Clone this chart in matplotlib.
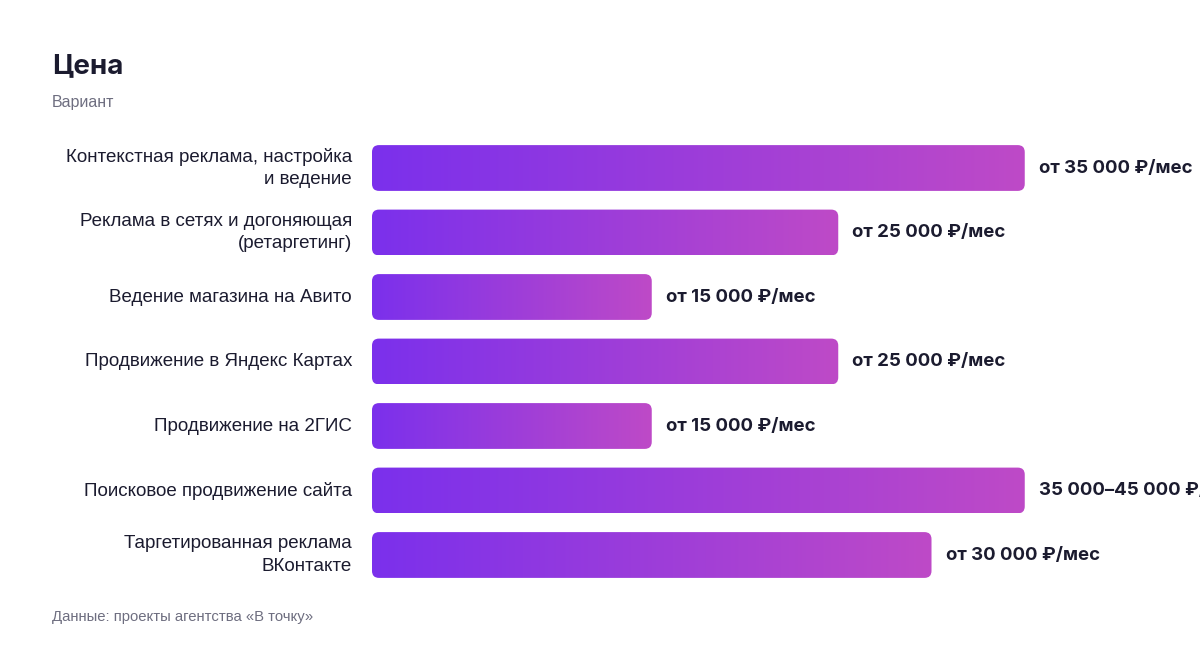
import matplotlib
matplotlib.use("Agg")
import matplotlib.pyplot as plt
import numpy as np
from matplotlib.colors import LinearSegmentedColormap
from matplotlib.patches import FancyBboxPatch

# ── Data ──────────────────────────────────────────────────────────────────────
categories = [
    "Контекстная реклама, настройка\nи ведение",
    "Реклама в сетях и догоняющая\n(ретаргетинг)",
    "Ведение магазина на Авито",
    "Продвижение в Яндекс Картах",
    "Продвижение на 2ГИС",
    "Поисковое продвижение сайта",
    "Таргетированная реклама\nВКонтакте",
]
prices = [35000, 25000, 15000, 25000, 15000, 35000, 30000]
price_labels = [
    "от 35 000 ₽/мес",
    "от 25 000 ₽/мес",
    "от 15 000 ₽/мес",
    "от 25 000 ₽/мес",
    "от 15 000 ₽/мес",
    "35 000–45 000 ₽/мес",
    "от 30 000 ₽/мес",
]

TITLE = "Цена"
SUBTITLE = "Вариант"
SOURCE = "Данные: проекты агентства «В точку»"

# ── Style ─────────────────────────────────────────────────────────────────────
TEXT_DARK = "#1b1b2f"
TEXT_GRAY = "#6e6e80"
GRAD = LinearSegmentedColormap.from_list("bar", ["#7B30EC", "#BE4AC7"])
BAR_H = 0.71
PX_PER_UNIT = 186.5 / 10000      # pixels per rouble
RADIUS_PX = 7

fig = plt.figure(figsize=(12, 6.48), dpi=100)
ax_left_px, ax_right_px = 372, 1200
ax_top_px, ax_bot_px = 135.75, 587.25
ax = fig.add_axes([ax_left_px / 1200, 1 - ax_bot_px / 648,
                   (ax_right_px - ax_left_px) / 1200, (ax_bot_px - ax_top_px) / 648])

xmax = (ax_right_px - ax_left_px) / PX_PER_UNIT
n = len(categories)
ax.set_xlim(0, xmax)
ax.set_ylim(n - 0.5, -0.5)
ax.axis("off")

# data units per pixel
x_per_px = xmax / (ax_right_px - ax_left_px)
y_per_px = n / (ax_bot_px - ax_top_px)
grad = np.linspace(0, 1, 256).reshape(1, -1)

for i, (v, lab) in enumerate(zip(prices, price_labels)):
    y0 = i - BAR_H / 2
    patch = FancyBboxPatch((0, y0), v, BAR_H,
                           boxstyle=f"round,pad=0,rounding_size={RADIUS_PX * x_per_px}",
                           mutation_aspect=y_per_px / x_per_px,
                           linewidth=0, facecolor="none")
    ax.add_patch(patch)
    im = ax.imshow(grad, cmap=GRAD, aspect="auto", interpolation="bicubic",
                   extent=[0, v, i + BAR_H / 2, y0], zorder=2)
    im.set_clip_path(patch)
    ax.text(v + 14 * x_per_px, i, lab, ha="left", va="center",
            fontsize=13.4, fontweight="bold", color=TEXT_DARK,
            family=["Inter", "DejaVu Sans"], clip_on=False)

for i, cat in enumerate(categories):
    ax.text(-20 * x_per_px, i, cat, ha="right", va="center", fontsize=13.5,
            color=TEXT_DARK, family=["Liberation Sans", "DejaVu Sans"],
            linespacing=1.45, clip_on=False)

fig.text(52 / 1200, 1 - 66 / 648, TITLE, ha="left", va="center",
         fontsize=20, fontweight="bold", color=TEXT_DARK, family=["Inter", "DejaVu Sans"])
fig.text(52 / 1200, 1 - 102 / 648, SUBTITLE, ha="left", va="center",
         fontsize=11.5, color=TEXT_GRAY, family=["Liberation Sans", "DejaVu Sans"])
fig.text(52 / 1200, 1 - 617 / 648, SOURCE, ha="left", va="center",
         fontsize=10.7, color=TEXT_GRAY, family=["Liberation Sans", "DejaVu Sans"])

fig.savefig("out.png", dpi=100, facecolor="white")
